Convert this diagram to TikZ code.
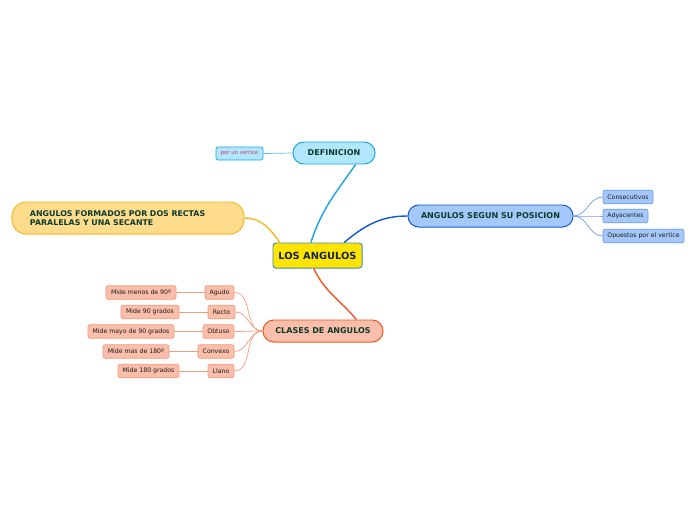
\documentclass[tikz,border=0pt]{standalone}
\usepackage{fontspec}
\setmainfont{DejaVu Sans}
\usetikzlibrary{positioning}

\definecolor{txtgreen}{RGB}{12,58,44}
\definecolor{txtnavy}{RGB}{20,35,80}
\definecolor{centerfill}{RGB}{255,228,0}
\definecolor{centerline}{RGB}{60,140,200}
\definecolor{deffill}{RGB}{178,230,250}
\definecolor{defline}{RGB}{25,165,228}
\definecolor{posfill}{RGB}{165,200,250}
\definecolor{posline}{RGB}{15,90,205}
\definecolor{possub}{RGB}{110,155,232}
\definecolor{formfill}{RGB}{255,220,140}
\definecolor{formline}{RGB}{247,185,35}
\definecolor{clasfill}{RGB}{250,190,170}
\definecolor{clasline}{RGB}{240,85,35}
\definecolor{classub}{RGB}{245,155,125}
\definecolor{vertxt}{RGB}{200,50,120}

\begin{document}
\begin{tikzpicture}[
    x=0.025cm, y=0.025cm,
    centre/.style={draw=centerline, fill=centerfill, line width=0.7pt, rounded corners=2pt, minimum width=2.225cm, minimum height=0.625cm, inner sep=0pt, text=txtnavy, font=\fontsize{7}{8}\selectfont\bfseries},
    topic/.style={line width=0.7pt, rounded corners=0.27cm, minimum height=0.55cm, inner sep=0pt, text=txtgreen, font=\fontsize{5.7}{7}\selectfont\bfseries},
    leaf/.style={line width=0.5pt, rounded corners=1.5pt, minimum height=0.34cm, inner sep=0pt, text=black!90, font=\fontsize{4.4}{5}\selectfont},
    branch/.style={line width=1pt},
    twig/.style={line width=0.5pt}
]
\useasboundingbox (0,0) rectangle (696,-520);

% Central topic
\node[centre] (angulos) at (317.5,-255.5) {LOS ANGULOS};

% Main topics
\node[topic, draw=defline, fill=deffill, minimum width=2.05cm] (definicion) at (334,-153) {DEFINICION};
\node[topic, draw=posline, fill=posfill, minimum width=4.125cm] (posicion) at (490.5,-216) {ANGULOS SEGUN SU POSICION};
\node[topic, draw=formline, fill=formfill, minimum height=0.8cm, rounded corners=0.35cm, text width=4.9cm, inner xsep=0.45cm, align=left, font=\fontsize{5.6}{6.4}\selectfont\bfseries] (formados) at (128,-218) {ANGULOS FORMADOS POR DOS RECTAS\\PARALELAS Y UNA SECANTE};
\node[topic, draw=clasline, fill=clasfill, minimum width=3cm] (clases) at (323,-331) {CLASES DE ANGULOS};

% Definicion
\node[leaf, draw=defline, fill=deffill, minimum width=1.175cm, minimum height=0.325cm, text=vertxt, font=\fontsize{3.8}{4.5}\selectfont] (vertice) at (239.5,-153.5) {por un vertice};

% Posicion
\node[leaf, draw=possub, fill=posfill, minimum width=1.25cm] (consecutivos) at (628,-197) {Consecutivos};
\node[leaf, draw=possub, fill=posfill, minimum width=1.125cm] (adyacentes) at (625.5,-216) {Adyacentes};
\node[leaf, draw=possub, fill=posfill, minimum width=2.025cm] (opuestos) at (643.5,-236) {Opuestos por el vertice};

% Clases
\node[leaf, draw=classub, fill=clasfill, minimum width=0.725cm] (agudo) at (219.5,-292.5) {Agudo};
\node[leaf, draw=classub, fill=clasfill, minimum width=0.675cm] (recto) at (221.5,-312) {Recto};
\node[leaf, draw=classub, fill=clasfill, minimum width=0.775cm] (obtuso) at (218.5,-331.5) {Obtuso};
\node[leaf, draw=classub, fill=clasfill, minimum width=0.9cm] (convexo) at (216,-351.5) {Convexo};
\node[leaf, draw=classub, fill=clasfill, minimum width=0.65cm] (llano) at (221,-371) {Llano};

\node[leaf, draw=classub, fill=clasfill, minimum width=1.75cm] (menos) at (141,-292.5) {Mide menos de 90º};
\node[leaf, draw=classub, fill=clasfill, minimum width=1.45cm] (noventa) at (150,-312) {Mide 90 grados};
\node[leaf, draw=classub, fill=clasfill, minimum width=2.15cm] (mayo) at (131,-331.5) {Mide mayo de 90 grados};
\node[leaf, draw=classub, fill=clasfill, minimum width=1.65cm] (mas) at (136,-351.5) {Mide mas de 180º};
\node[leaf, draw=classub, fill=clasfill, minimum width=1.525cm] (llanotxt) at (148.5,-371) {Mide 180 grados};

% Branches
\draw[branch, defline] (angulos.117) to[out=72, in=235] (definicion.332);
\draw[branch, posline] (angulos.26) to[out=40, in=180] (posicion.west);
\draw[branch, formline] (formados.east) to[out=0, in=125] (angulos.161);
\draw[branch, clasline] (angulos.254) to[out=-65, in=130] (clases.19);

% Twigs
\draw[twig, defline!70] (definicion.west) -- (vertice.east);
\foreach \n in {consecutivos,adyacentes,opuestos} {
    \draw[twig, possub] (posicion.east) to[out=0, in=180] (\n.west);
}
\foreach \n in {agudo,recto,obtuso,convexo,llano} {
    \draw[twig, classub] (clases.west) to[out=180, in=0] (\n.east);
}
\foreach \a/\b in {agudo/menos,recto/noventa,obtuso/mayo,convexo/mas,llano/llanotxt} {
    \draw[twig, classub] (\a.west) -- (\b.east);
}

\end{tikzpicture}
\end{document}
